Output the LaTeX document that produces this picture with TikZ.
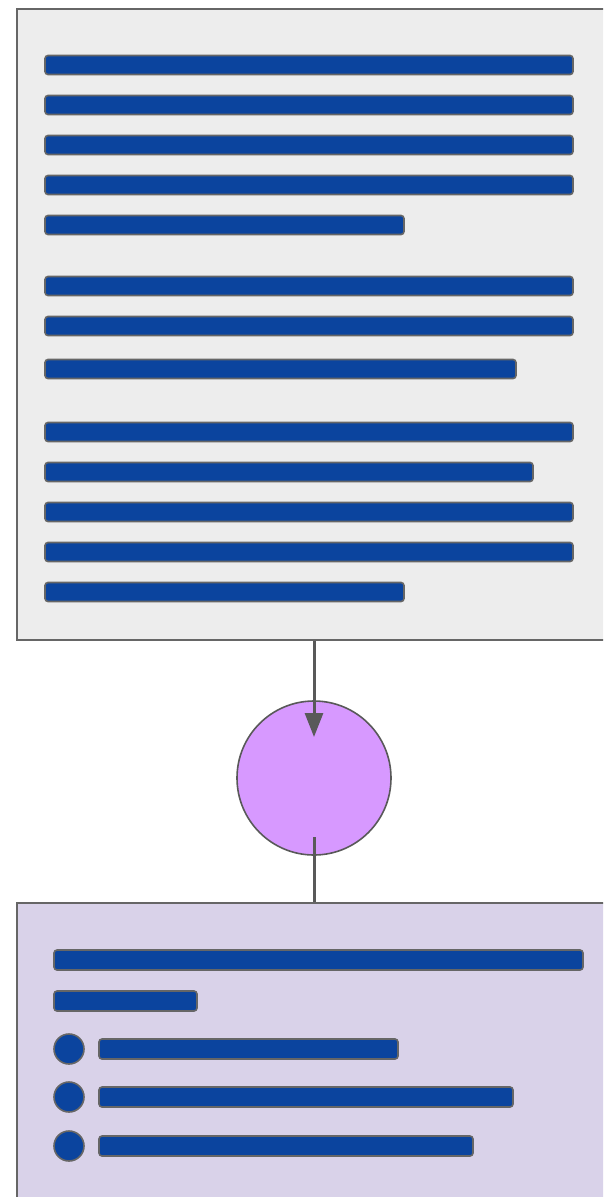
\documentclass[tikz,border=0pt]{standalone}
\usetikzlibrary{arrows.meta}
\definecolor{panelgray}{HTML}{EDEDED}
\definecolor{panellilac}{HTML}{D9D2E9}
\definecolor{edgegray}{HTML}{666666}
\definecolor{linegray}{HTML}{595959}
\definecolor{barblue}{HTML}{0B449E}
\definecolor{hubviolet}{HTML}{D799FF}
\tikzset{
  panel/.style={draw=edgegray, line width=1.6pt, rectangle, inner sep=0pt},
  bar/.style={draw=edgegray, line width=1.6pt, fill=barblue, rounded corners=3pt},
  bullet/.style={draw=edgegray, line width=1.6pt, fill=barblue},
  hub/.style={circle, draw=linegray, line width=1.6pt, fill=hubviolet, minimum size=154pt, inner sep=0pt},
  link/.style={draw=linegray, line width=3pt}
}
\begin{document}
\begin{tikzpicture}[x=1pt, y=-1pt]
\useasboundingbox (0,0) rectangle (603,1197);
\clip (0,0) rectangle (603,1197);

% upper text panel
\node[panel, fill=panelgray, minimum width=604pt, minimum height=631pt, anchor=north west] (source) at (16,8) {};
\foreach \yc/\xe in {65/573,105/573,145/573,185/573,225/404,
                     286/573,326/573,369/516,
                     432/573,472/533,512/573,552/573,592/404}
  \draw[bar] (45,\yc-9.5) rectangle (\xe,\yc+9.5);

% processing hub
\node[hub] (hub) at (314,778) {};
\coordinate (hubin) at (314,737);
\coordinate (hubout) at (314,837);

% lower summary panel
\node[panel, fill=panellilac, minimum width=604pt, minimum height=320pt, anchor=north west] (result) at (16,902) {};
\foreach \yc/\xs/\xe in {960/54/583,1001/54/197,1049/99/398,1097/99/513,1146/99/473}
  \draw[bar] (\xs,\yc-10) rectangle (\xe,\yc+10);
\foreach \yc in {1049,1097,1146}
  \draw[bullet] (69,\yc) circle (15);

% connectors
\draw[link, -{Triangle[length=24pt,width=18pt]}] (source.south -| hub) -- (hubin);
\draw[link] (hubout) -- (result.north -| hub);
\end{tikzpicture}
\end{document}
